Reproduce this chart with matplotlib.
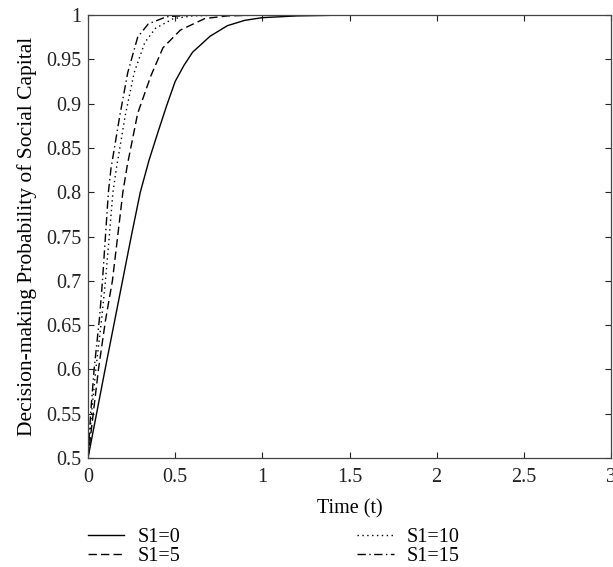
import matplotlib.pyplot as plt
import numpy as np

# values
t_s0 = [0, 0.05, 0.1, 0.15, 0.2, 0.25, 0.3, 0.35, 0.4, 0.45, 0.5, 0.55, 0.6, 0.7, 0.8, 0.9, 1.0, 1.2, 1.5, 2.0, 2.5, 3.0]
p_s0 = [0.5, 0.551, 0.602, 0.652, 0.702, 0.752, 0.80, 0.836, 0.867, 0.897, 0.925, 0.943, 0.958, 0.976, 0.988, 0.994, 0.997, 0.999, 1.0, 1.0, 1.0, 1.0]

t_s5 = [0, 0.03, 0.06, 0.1, 0.14, 0.17, 0.2, 0.225, 0.285, 0.36, 0.43, 0.53, 0.67, 0.8, 1.0, 3.0]
p_s5 = [0.5, 0.55, 0.60, 0.655, 0.70, 0.75, 0.80, 0.83, 0.889, 0.931, 0.963, 0.983, 0.996, 0.999, 1.0, 1.0]

t_s10 = [0, 0.02, 0.045, 0.08, 0.10, 0.122, 0.143, 0.163, 0.214, 0.265, 0.326, 0.387, 0.49, 0.6, 0.8, 3.0]
p_s10 = [0.5, 0.55, 0.60, 0.66, 0.70, 0.75, 0.80, 0.827, 0.887, 0.935, 0.969, 0.985, 0.996, 0.999, 1.0, 1.0]

t_s15 = [0, 0.015, 0.035, 0.067, 0.083, 0.10, 0.117, 0.132, 0.183, 0.228, 0.285, 0.346, 0.45, 0.6, 3.0]
p_s15 = [0.5, 0.55, 0.60, 0.66, 0.70, 0.75, 0.80, 0.827, 0.887, 0.935, 0.975, 0.99, 0.998, 1.0, 1.0]

labels = ['S1=0', 'S1=5', 'S1=10', 'S1=15']

plt.rcParams['font.family'] = ['Liberation Serif', 'DejaVu Serif']
fs = 14.5

fig = plt.figure(figsize=(6.13, 5.67), dpi=100)
ax = fig.add_axes([88 / 613, 1 - 458 / 567, 523 / 613, 443 / 567])

lw = 1.0
ax.plot(t_s0, p_s0, color='black', linestyle='-', linewidth=lw, label=labels[0])
ax.plot(t_s5, p_s5, color='black', linestyle=(0, (6, 3)), linewidth=lw, label=labels[1])
ax.plot(t_s10, p_s10, color='black', linestyle=(0, (1, 2.5)), linewidth=lw, label=labels[2])
ax.plot(t_s15, p_s15, color='black', linestyle=(0, (6, 2.5, 1, 2.5)), linewidth=lw, label=labels[3])

ax.set_xlim(0, 3)
ax.set_ylim(0.5, 1)
ax.set_xticks(np.arange(0, 3.01, 0.5))
ax.set_xticklabels(['0', '0.5', '1', '1.5', '2', '2.5', '3'])
ax.set_yticks(np.arange(0.5, 1.001, 0.05))
ax.set_yticklabels(['0.5', '0.55', '0.6', '0.65', '0.7', '0.75', '0.8', '0.85', '0.9', '0.95', '1'])
ax.tick_params(direction='in', top=True, right=True, length=4, width=0.8,
               labelsize=fs, colors='#222222', pad=5)
ax.tick_params(axis='x', pad=7)
for s in ax.spines.values():
    s.set_linewidth(0.9)
    s.set_color('#444444')

ax.set_xlabel('Time (t)', fontsize=fs, labelpad=9)
ax.set_ylabel('Decision-making Probability of Social Capital', fontsize=15.5, labelpad=6)

fig.legend(loc='upper left', bbox_to_anchor=(88 / 613, 1 - 528 / 567), ncol=2,
           frameon=False, borderpad=0, borderaxespad=0, handlelength=1.8,
           handletextpad=0.65, columnspacing=8.8, labelspacing=0.0, fontsize=fs)

plt.savefig('out.png', dpi=100)
